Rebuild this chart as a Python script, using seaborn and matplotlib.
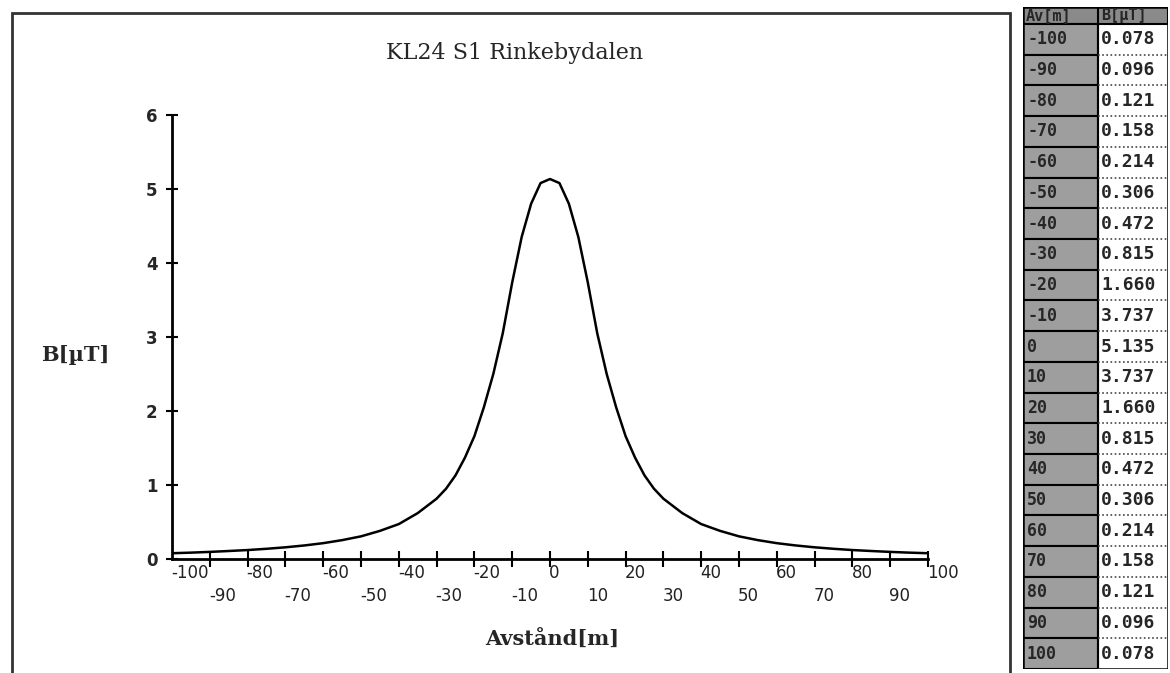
import numpy as np
import pandas as pd
import matplotlib
matplotlib.use("Agg")
import matplotlib.pyplot as plt
import seaborn as sns
from matplotlib.patches import Rectangle

# Values from the table on the right of the chart.
distance_m = [-100, -90, -80, -70, -60, -50, -40, -30, -20, -10, 0,
              10, 20, 30, 40, 50, 60, 70, 80, 90, 100]
field_uT = [0.078, 0.096, 0.121, 0.158, 0.214, 0.306, 0.472, 0.815, 1.660, 3.737, 5.135,
            3.737, 1.660, 0.815, 0.472, 0.306, 0.214, 0.158, 0.121, 0.096, 0.078]

mid_distance_m = [-95, -85, -75, -65, -55, -45, -35, -27.5, -25, -22.5,
                  -17.5, -15, -12.5, -7.5, -5, -2.5,
                  2.5, 5, 7.5, 12.5, 15, 17.5,
                  22.5, 25, 27.5, 35, 45, 55, 65, 75, 85, 95]
mid_field_uT = [0.086, 0.108, 0.138, 0.183, 0.255, 0.38, 0.62, 0.95, 1.13, 1.37,
                2.05, 2.5, 3.05, 4.35, 4.8, 5.08,
                5.08, 4.8, 4.35, 3.05, 2.5, 2.05,
                1.37, 1.13, 0.95, 0.62, 0.38, 0.255, 0.183, 0.138, 0.108, 0.086]

title = "KL24 S1 Rinkebydalen"
x_label = "Avstånd[m]"
y_label = "B[µT]"
table_head = ["Av[m]", "B[µT]"]
y_ticks = [0, 1, 2, 3, 4, 5, 6]

W, H = 1170, 673


def fx(x):
    return x / W


def fy(y):
    return 1 - y / H


sns.set_style("white")
plt.rcParams["font.family"] = ["DejaVu Sans"]

fig = plt.figure(figsize=(W / 100, H / 100), dpi=100)
ax = fig.add_axes([fx(172), fy(559), fx(928) - fx(172), fy(115) - fy(559)])

curve = pd.DataFrame({
    "dist": distance_m + mid_distance_m,
    "B": field_uT + mid_field_uT,
}).sort_values("dist")

sns.lineplot(data=curve, x="dist", y="B", color="black", lw=1.8, ax=ax, sort=True)

ax.set_xlim(-100, 100)
ax.set_ylim(0, 6)
ax.set_xlabel("")
ax.set_ylabel("")
for side in ["top", "right"]:
    ax.spines[side].set_visible(False)
for side in ["left", "bottom"]:
    ax.spines[side].set_linewidth(2)
    ax.spines[side].set_color("black")

# x ticks: marks at every 10 m, labels left aligned and staggered in two rows
ax.set_xticks(distance_m[1:])
ax.set_xticklabels([])
ax.tick_params(axis="x", bottom=True, direction="inout", length=12, width=1.5, color="black")
for i, d in enumerate(distance_m):
    off = -14 if i % 2 == 0 else -37
    ax.annotate(str(d), xy=(d, 0), xycoords=("data", "axes fraction"),
                xytext=(-1, off), textcoords="offset pixels",
                ha="left", va="center", fontsize=12, color="#222222")

ax.set_yticks(y_ticks)
ax.tick_params(axis="y", left=True, direction="inout", length=9, width=1.5, color="black",
               labelsize=12, pad=6)
for t in ax.get_yticklabels():
    t.set_fontweight("bold")

fig.text(fx(515), fy(53), title, ha="center", va="center",
         fontsize=16, family="DejaVu Serif")
fig.text(fx(75), fy(355), y_label, ha="center", va="center",
         fontsize=15, family="DejaVu Serif", fontweight="bold")
fig.text(fx(552), fy(640), x_label, ha="center", va="center",
         fontsize=15, family="DejaVu Serif", fontweight="bold")

# frame around the chart
fig.add_artist(Rectangle((fx(12), -0.02), fx(1010) - fx(12), fy(13) + 0.02,
                         transform=fig.transFigure, fill=False, lw=2, ec="#333333"))

# value table on the right, drawn in pixel units
tab = fig.add_axes([fx(1023), fy(669), fx(1168) - fx(1023), fy(7) - fy(669)])
tab.set_xlim(1023, 1168)
tab.set_ylim(669, 7)
tab.axis("off")

col_split = 1098
head_top, head_bot = 7, 24
row_h = (669 - head_bot) / len(distance_m)

tab.add_patch(Rectangle((1023, head_top), 1168 - 1023, head_bot - head_top,
                        fc="#8a8a8a", ec="black", lw=1.5))
tab.plot([col_split, col_split], [head_top, 669], color="black", lw=1.5)
tab.text(1026, (head_top + head_bot) / 2, table_head[0], ha="left", va="center",
         fontsize=11, fontweight="bold", family="DejaVu Sans Mono")
tab.text(col_split + 3, (head_top + head_bot) / 2, table_head[1], ha="left", va="center",
         fontsize=11, fontweight="bold", family="DejaVu Sans Mono")

for i, (d, b) in enumerate(zip(distance_m, field_uT)):
    top = head_bot + i * row_h
    mid = top + row_h / 2
    tab.add_patch(Rectangle((1023, top), col_split - 1023, row_h,
                            fc="#9e9e9e", ec="black", lw=1.5))
    tab.plot([col_split, 1168], [top + row_h, top + row_h], color="#444444",
             lw=1.2, ls=(0, (1, 1.5)))
    tab.text(1027, mid, str(d), ha="left", va="center", fontsize=12,
             fontweight="bold", family="DejaVu Sans Mono")
    tab.text(col_split + 3, mid, f"{b:.3f}", ha="left", va="center", fontsize=13,
             fontweight="bold", family="DejaVu Sans Mono")

tab.add_patch(Rectangle((1023, head_top), 1168 - 1023, 669 - head_top,
                        fill=False, ec="black", lw=1.8))

fig.savefig("out.png", dpi=100)
